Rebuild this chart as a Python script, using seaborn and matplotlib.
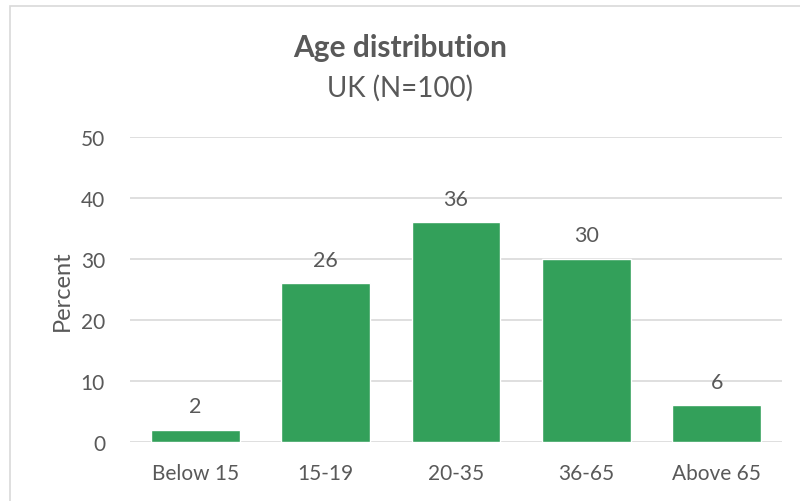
import pandas as pd
import seaborn as sns
import matplotlib.pyplot as plt
from matplotlib.patches import Rectangle

categories = ["Below 15", "15-19", "20-35", "36-65", "Above 65"]
percent = [2, 26, 36, 30, 6]

df = pd.DataFrame({"age": categories, "percent": percent})

sns.set_theme(style="white")
plt.rcParams['font.family'] = ['Lato', 'DejaVu Sans']
text_col = "#595959"
grid_col = "#D9D9D9"

fig = plt.figure(figsize=(8, 5.02), dpi=100)
ax = fig.add_axes([0.1625, 0.1175, 0.815, 0.6075])

sns.barplot(data=df, x="age", y="percent", color="#33A05A", width=0.68,
            saturation=1, ax=ax, zorder=3)
ax.bar_label(ax.containers[0], fontsize=15.5, color=text_col, padding=10)

ax.set_ylim(0, 50)
ax.set_yticks(range(0, 51, 10))
ax.yaxis.grid(True, color=grid_col, linewidth=1.2, zorder=0)
ax.set_axisbelow(True)
for s in ax.spines.values():
    s.set_visible(False)
ax.tick_params(axis="both", length=0, labelsize=15, colors=text_col)
ax.tick_params(axis="x", pad=15)
ax.tick_params(axis="y", pad=18)
ax.set_xlabel("")
ax.set_ylabel("Percent", fontsize=17, color=text_col, labelpad=6)

fig.text(0.5, 0.905, "Age distribution", ha="center", va="center",
         fontsize=21.5, fontweight="bold", color=text_col)
fig.text(0.5, 0.825, "UK (N=100)", ha="center", va="center",
         fontsize=20, color=text_col)

fig.patches.append(Rectangle((10 / 800, -0.1), 1.2, 1.1 - 7 / 502,
                             transform=fig.transFigure, fill=False,
                             edgecolor=grid_col, linewidth=1.2))

fig.savefig("out.png", dpi=100)
